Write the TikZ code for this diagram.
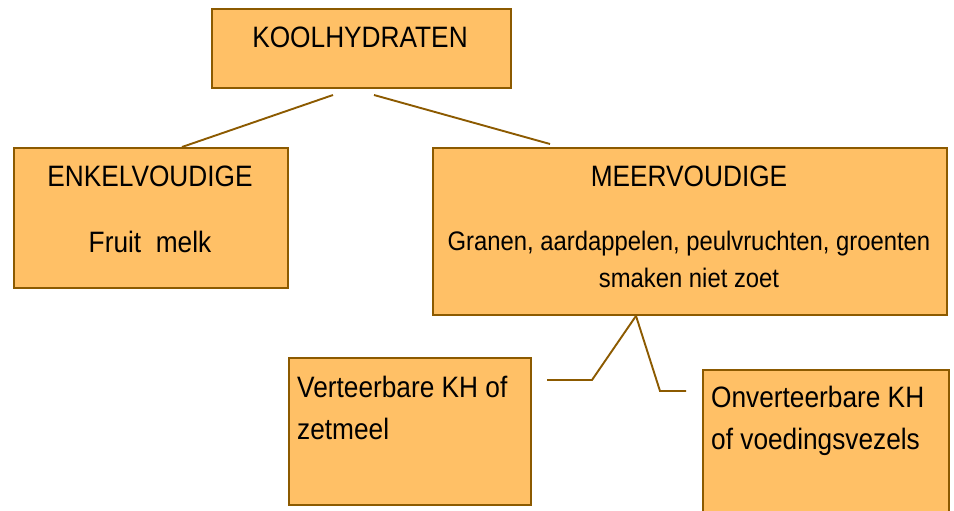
\documentclass[tikz,border=0pt]{standalone}
\usepackage{fontspec}
\setmainfont[FakeStretch=0.89]{Liberation Sans}
\usepackage{tikz}
\definecolor{oranje}{HTML}{FFC066}
\definecolor{bruin}{HTML}{8C5A00}
\newcommand{\groot}{\fontsize{29.5}{35}\selectfont}
\newcommand{\klein}{\fontsize{26.8}{32}\selectfont}
\tikzset{kader/.style={draw=bruin,fill=oranje,line width=1.9pt,inner sep=0pt,anchor=north west},
  lijn/.style={draw=bruin,line width=1.9pt},
  tekst/.style={inner sep=0pt,anchor=base,font=\groot}}

\begin{document}
\begin{tikzpicture}[x=1pt,y=-1pt]
\useasboundingbox (0,0) rectangle (954,511);
\clip (0,0) rectangle (954,511);
\node[kader,minimum width=299pt,minimum height=79pt] (kool) at (211,8) {};
\node[kader,minimum width=274pt,minimum height=140pt] (enkel) at (13,147) {};
\node[kader,minimum width=514pt,minimum height=167pt] (meer) at (432,147) {};
\node[kader,minimum width=242pt,minimum height=147pt] (vert) at (288,357) {};
\node[kader,minimum width=246pt,minimum height=170pt] (onvert) at (702,369) {};
\node[tekst] (kool-t) at (360,48) {KOOLHYDRATEN};
\node[tekst] (enkel-t) at (150,186) {ENKELVOUDIGE};
\node[tekst] (enkel-v) at (150,252) {Fruit\ \ melk};
\node[tekst] (meer-t) at (689,186) {MEERVOUDIGE};
\node[tekst,font=\klein] (meer-v) at (689,250) {Granen, aardappelen, peulvruchten, groenten};
\node[tekst,font=\klein] (meer-w) at (689,287) {smaken niet zoet};
\node[tekst,anchor=base west] (vert-a) at (297,397) {Verteerbare KH of};
\node[tekst,anchor=base west] (vert-b) at (297,439) {zetmeel};
\node[tekst,anchor=base west] (onvert-a) at (711,407) {Onverteerbare KH};
\node[tekst,anchor=base west] (onvert-b) at (711,449) {of voedingsvezels};
\coordinate (kool-l) at (333,95);
\coordinate (kool-r) at (374,95);
\draw[lijn] (kool-l) -- ([xshift=169pt]enkel.north west);
\draw[lijn] (kool-r) -- ([xshift=118pt,yshift=3pt]meer.north west);
\coordinate (splits) at ([xshift=204pt]meer.south west);
\coordinate (knik-l) at (592,380);
\coordinate (eind-l) at (547,380);
\coordinate (knik-r) at (660,391);
\coordinate (eind-r) at (686,391);
\draw[lijn] (splits) -- (knik-l) -- (eind-l);
\draw[lijn] (splits) -- (knik-r) -- (eind-r);
\end{tikzpicture}
\end{document}
